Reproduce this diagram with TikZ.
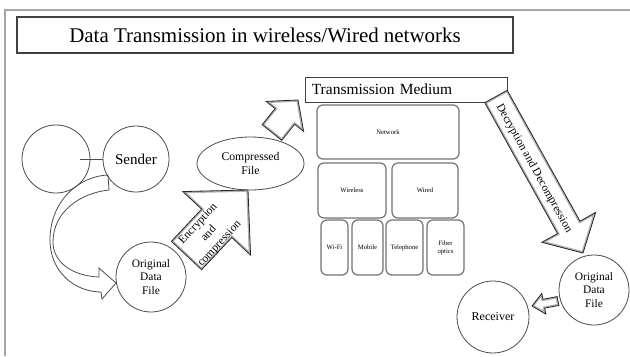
\documentclass[tikz,border=0pt]{standalone}
\usepackage{fontspec}
\setmainfont{Liberation Serif}
\usetikzlibrary{calc,shapes.geometric}

% Straight block arrow: #1 path options, #2 tail centre, #3 tip,
% #4 half shaft width, #5 half head width, #6 head length (all in px)
\newcommand{\fatarrow}[6]{%
  \coordinate (fa-h) at ($(#3)!#6*0.75pt!(#2)$);
  \path[#1] ($(#2)!#4*0.75pt!90:(#3)$) -- ($(fa-h)!#4*0.75pt!-90:(#2)$)
    -- ($(fa-h)!#5*0.75pt!-90:(#2)$) -- (#3)
    -- ($(fa-h)!#5*0.75pt!90:(#2)$) -- ($(fa-h)!#4*0.75pt!90:(#2)$)
    -- ($(#2)!#4*0.75pt!-90:(#3)$) -- cycle;}

% Block arrow with a soft grey inner edge
\newcommand{\bevelarrow}[5]{%
  \fatarrow{fill=white}{#1}{#2}{#3}{#4}{#5}
  \begin{scope}
    \fatarrow{clip}{#1}{#2}{#3}{#4}{#5}
    \fatarrow{draw=black!30, line width=2.6pt}{#1}{#2}{#3}{#4}{#5}
  \end{scope}
  \fatarrow{draw=black!85, line width=0.6pt, line join=miter}{#1}{#2}{#3}{#4}{#5}}

\begin{document}
\begin{tikzpicture}[x=0.75pt, y=-0.75pt,
  outline/.style={draw=black!70, line width=0.6pt},
  bubble/.style={circle, outline, inner sep=0pt, align=center},
  tile/.style={draw=black!55, line width=0.9pt, rounded corners=4.5pt, inner sep=0pt,
    align=center, font=\fontsize{5}{6}\selectfont},
  small/.style={font=\fontsize{8.6}{10.3}\selectfont}]

\fill[white] (0,0) rectangle (630,356);
\useasboundingbox (0,0) rectangle (630,356);

% page frame
\draw[black!35, line width=1.1pt] (630,10) -- (5,10) -- (5,356);

% heading
\node[draw=black!75, line width=0.8pt, minimum width=372pt, minimum height=27pt,
  inner sep=0pt, font=\fontsize{15.7}{18}\selectfont] (title) at (265,35)
  {Data Transmission in wireless/Wired networks};

% sender side
\node[bubble, minimum size=51pt] (blank) at (56,159) {};
\node[bubble, minimum size=49.5pt, font=\fontsize{11.3}{13}\selectfont] (sender) at (136,159) {Sender};
\node[bubble, minimum size=52.5pt, small] (orig) at (151,277) {Original\\Data\\File};
\node[ellipse, outline, minimum width=80.25pt, minimum height=39.75pt, inner sep=0pt,
  align=center, font=\fontsize{8.8}{10.5}\selectfont] (comp) at (250.5,163.5) {Compressed\\File};
\draw[outline] ($(blank.center)+(24,0)$) -- (sender.west);

% curved arrow from the sender down to the original file
\draw[outline] (108,175) .. controls (80,176) and (50,200) .. (50,240)
  .. controls (50,272) and (75,292) .. (101,292) -- (102,299) -- (116,283)
  -- (99,268) -- (99,277) .. controls (72,276) and (53,262) .. (53,242)
  .. controls (53,212) and (80,193) .. (109,190) -- cycle;

% transmission medium
\node[draw=black!75, line width=0.7pt, inner xsep=5pt, inner ysep=0pt, text width=142pt,
  minimum height=18.75pt, align=left, font=\fontsize{11.6}{13}\selectfont] (medium)
  at (406.5,89.5) {Transmission Medium};
\node[tile, minimum width=106.5pt, minimum height=40.5pt] (network) at (388,132) {Network};
\node[tile, minimum width=51pt, minimum height=41.25pt] (wireless) at (352,190.5) {Wireless};
\node[tile, minimum width=49.5pt, minimum height=41.25pt] (wired) at (425,190.5) {Wired};
\node[tile, minimum width=20.25pt, minimum height=41.25pt] (wifi) at (334.5,247.5) {Wi-Fi};
\node[tile, minimum width=23.25pt, minimum height=41.25pt] (mobile) at (367.5,247.5) {Mobile};
\node[tile, minimum width=27.75pt, minimum height=41.25pt] (phone) at (404.5,247.5) {Telephone};
\node[tile, minimum width=27.75pt, minimum height=41.25pt] (fiber) at (445.5,247.5) {Fiber\\optics};

% receiver side
\node[bubble, minimum size=52.5pt, small] (orig2) at (594,290) {Original\\Data\\File};
\node[bubble, minimum size=54pt, font=\fontsize{9}{11}\selectfont] (receiver) at (493,317) {Receiver};

% block arrows
\coordinate (enc-tail) at (186.5,255.5);
\coordinate (enc-tip) at (248,190);
\bevelarrow{enc-tail}{enc-tip}{20.7}{46.4}{45.7}
\node[small, align=center, rotate=47, font=\fontsize{8.6}{11}\selectfont] (enc) at (209,234)
  {Encryption\\and\\compression};

\coordinate (up-tail) at (272,132.5);
\coordinate (up-tip) at (298,100);
\bevelarrow{up-tail}{up-tip}{12.5}{24}{21}

\coordinate (dec-tail) at (496,96.5);
\coordinate (dec-tip) at (583,253);
\bevelarrow{dec-tail}{dec-tip}{12.8}{30.7}{29.3}
\node[small, rotate=-61] (dec) at (534,168.5) {Decryption and Decompression};

\coordinate (rx-tail) at (558,301);
\coordinate (rx-tip) at (532,306);
\bevelarrow{rx-tail}{rx-tip}{4.5}{10.5}{12}
\end{tikzpicture}
\end{document}
